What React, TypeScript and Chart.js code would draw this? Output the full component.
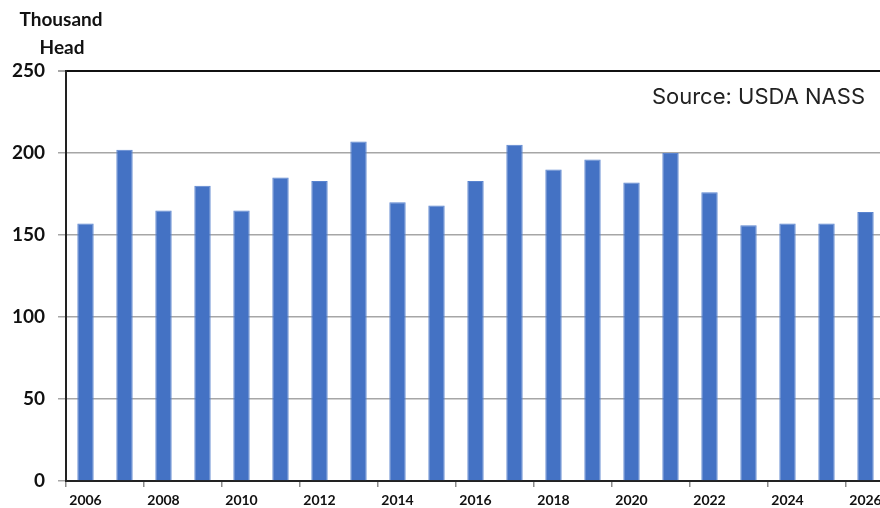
import React, { useEffect, useRef } from "react";
import { Chart, registerables } from "chart.js";

Chart.register(...registerables);

const years = [
  "2006", "2007", "2008", "2009", "2010", "2011", "2012", "2013", "2014", "2015", "2016",
  "2017", "2018", "2019", "2020", "2021", "2022", "2023", "2024", "2025", "2026",
];
const values = [157, 202, 165, 180, 165, 185, 183, 207, 170, 168, 183, 205, 190, 196, 182, 200, 176, 156, 157, 157, 164];
const yMin = 0;
const yMax = 250;
const yStep = 50;
const unitLines = ["Thousand", "Head"];
const sourceText = "Source: USDA NASS";

const textPlugin = {
  id: "extraText",
  afterDraw(chart: any) {
    const ctx = chart.ctx;
    ctx.save();
    ctx.fillStyle = "#111";
    ctx.textAlign = "center";
    ctx.textBaseline = "middle";
    ctx.font = "bold 19px Lato";
    ctx.fillText(unitLines[0], 61, 20);
    ctx.fillText(unitLines[1], 62, 48);
    ctx.textAlign = "right";
    ctx.font = "22px Inter";
    ctx.fillStyle = "#222";
    ctx.fillText(sourceText, 865, 97);
    ctx.restore();
  },
};

export default function App() {
  const ref = useRef<HTMLCanvasElement | null>(null);
  useEffect(() => {
    if (!ref.current) return;
    const chart = new Chart(ref.current, {
      type: "bar",
      data: {
        labels: years,
        datasets: [
          {
            data: values,
            backgroundColor: "#4472C4",
            borderColor: "#5a84cf",
            borderWidth: 1,
            categoryPercentage: 1,
            barPercentage: 0.42,
          },
        ],
      },
      options: {
        responsive: false,
        animation: false,
        devicePixelRatio: 1,
        layout: { padding: { top: 71, right: 5, left: 0, bottom: 0 } },
        plugins: { legend: { display: false }, tooltip: { enabled: false } },
        scales: {
          x: {
            grid: {
              offset: true,
              drawOnChartArea: false,
              tickLength: 6,
              color: (c: any) => (c.index % 2 === 0 ? "#8c8c8c" : "rgba(0,0,0,0)"),
              lineWidth: 1.5,
            },
            border: { display: true, color: "#222", width: 2 },
            ticks: {
              autoSkip: false,
              maxRotation: 0,
              padding: 5,
              color: "#111",
              font: { family: "Lato", weight: "bold", size: 14 },
              callback: (_v: any, i: number) => (i % 2 === 0 ? years[i] : ""),
            },
            afterFit: (s: any) => {
              s.height = 27;
            },
          },
          y: {
            min: yMin,
            max: yMax,
            ticks: {
              stepSize: yStep,
              padding: 13,
              color: "#111",
              font: { family: "Lato", weight: "bold", size: 19 },
            },
            grid: {
              tickLength: 8,
              color: (c: any) => (c.tick && c.tick.value === yMax ? "#111" : "#a6a6a6"),
              lineWidth: (c: any) => (c.tick && c.tick.value === yMax ? 2 : 1.5),
              tickColor: "#a6a6a6",
            },
            border: { display: true, color: "#222", width: 2 },
            afterFit: (s: any) => {
              s.width = 66;
            },
          },
        },
      },
      plugins: [textPlugin],
    });
    return () => chart.destroy();
  }, []);
  return (
    <div
      style={{
        position: "fixed",
        left: 0,
        top: 0,
        width: 880,
        height: 508,
        overflow: "hidden",
        background: "#fff",
      }}
    >
      <canvas ref={ref} width={890} height={508} style={{ display: "block" }} />
    </div>
  );
}
